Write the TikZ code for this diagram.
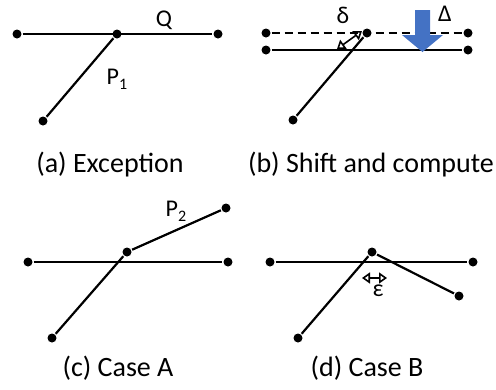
\documentclass[tikz,border=0pt]{standalone}
\usepackage{fontspec}
\setmainfont{Carlito}
\usetikzlibrary{arrows.meta, positioning}
\definecolor{shiftblue}{RGB}{68,114,196}

\newcommand{\lowidx}[1]{\raisebox{-0.45ex}{\fontsize{16}{16}\selectfont #1}}

\begin{document}
\begin{tikzpicture}[x=1pt, y=-1pt, line width=2.2pt,
    dot/.style={circle, fill, inner sep=0pt, minimum size=9pt},
    lbl/.style={font=\fontsize{24}{26}\selectfont, inner sep=0pt},
    subcap/.style={font=\fontsize{28}{30}\selectfont, inner sep=0pt, anchor=base},
    gap/.style={{Triangle[open,length=8pt,width=11pt]}-{Triangle[open,length=8pt,width=11pt]}, line width=1.6pt}]
    \useasboundingbox (0,0) rectangle (496,389);

    % (a) Exception
    \node[dot] (qa1) at (17,34) {};
    \node[dot] (qa2) at (218,34) {};
    \node[dot] (pa1) at (117,34) {};
    \node[dot] (pa2) at (43,121) {};
    \draw (qa1) -- (qa2);
    \draw (pa2) -- (pa1);
    \node[lbl] (qlbl) at (164,20) {Q};
    \node[lbl] (p1lbl) at (117,79) {P\lowidx{1}};
    \node[subcap] (capa) at (110,172) {(a) Exception};

    % (b) Shift and compute
    \node[dot] (qb1) at (266,33) {};
    \node[dot] (qb2) at (468,33) {};
    \node[dot] (qb3) at (266,50) {};
    \node[dot] (qb4) at (468,50) {};
    \node[dot] (pb1) at (367,33) {};
    \node[dot] (pb2) at (293,120) {};
    \draw[dash pattern=on 8pt off 5pt] (qb1) -- (qb2);
    \draw (qb3) -- (qb4);
    \draw (pb2) -- (pb1);
    \coordinate (db1) at (337,49);
    \coordinate (db2) at (362,31);
    \draw[gap] (db1) -- (db2);
    \fill[shiftblue] (415,10) -- (430,10) -- (430,35) -- (443,35) -- (422.5,52)
        -- (402,35) -- (415,35) -- cycle;
    \node[lbl] (dlbl) at (343,15) {δ};
    \node[lbl] (Dlbl) at (445,14) {Δ};
    \node[subcap] (capb) at (371,172) {(b) Shift and compute};

    % (c) Case A
    \node[dot] (qc1) at (28,262) {};
    \node[dot] (qc2) at (228,262) {};
    \node[dot] (pc1) at (127,252) {};
    \node[dot] (pc2) at (52,338) {};
    \node[dot] (pc3) at (226,208) {};
    \draw (qc1) -- (qc2);
    \draw (pc2) -- (pc1) -- (pc3);
    \node[lbl] (p2lbl) at (176,211) {P\lowidx{2}};
    \node[subcap] (capc) at (118,376) {(c) Case A};

    % (d) Case B
    \node[dot] (qd1) at (270,262) {};
    \node[dot] (qd2) at (473,262) {};
    \node[dot] (pd1) at (372,252) {};
    \node[dot] (pd2) at (298,338) {};
    \node[dot] (pd3) at (459,296) {};
    \draw (qd1) -- (qd2);
    \draw (pd2) -- (pd1) -- (pd3);
    \coordinate (ed1) at (362,278);
    \coordinate (ed2) at (387,278);
    \draw[gap] (ed1) -- (ed2);
    \node[lbl] (elbl) at (378,291) {ε};
    \node[subcap] (capd) at (367,376) {(d) Case B};
\end{tikzpicture}
\end{document}
